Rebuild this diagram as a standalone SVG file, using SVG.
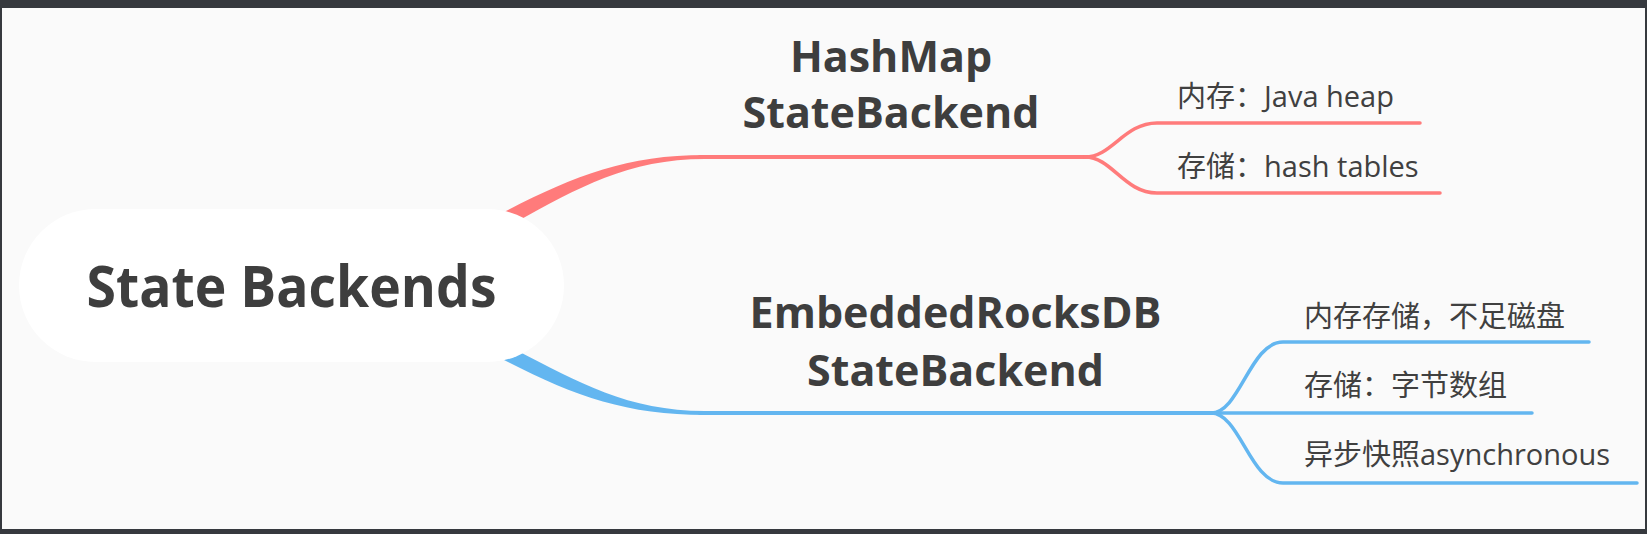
<svg xmlns="http://www.w3.org/2000/svg" width="1647" height="534" viewBox="0 0 1647 534">
  <style>
    .title { font-family: "Open Sans", "Noto Sans", "Liberation Sans", sans-serif; font-weight: 700; fill: #3e3e3e; text-anchor: middle; }
    .label { font-family: "Open Sans", "Noto Sans CJK SC", sans-serif; font-size: 29px; fill: #404040; }
    .red { stroke: #ff7b7b; fill: none; stroke-linecap: round; }
    .blue { stroke: #63b6f0; fill: none; stroke-linecap: round; }
  </style>
  <rect x="0" y="0" width="1647" height="534" fill="#36393e"/>
  <rect x="2" y="8" width="1643" height="521" fill="#fafafa"/>

  <g id="connectors">
    <!-- red main -->
    <path d="M504,212 C574,176 626,155 705,155 L705,159 C628,159 578,188 516,222 Z" fill="#ff7b7b"/>
    <path class="red" d="M700,157 H1087" stroke-width="4"/>
    <path class="red" d="M1085,157 C1112,157 1124,123 1157,123 H1420" stroke-width="3.5"/>
    <path class="red" d="M1085,157 C1112,157 1124,193 1157,193 H1440" stroke-width="3.5"/>
    <!-- blue main -->
    <path d="M504,360 C574,396 626,415 705,415 L705,411 C628,411 578,382 516,350 Z" fill="#63b6f0"/>
    <path class="blue" d="M700,413 H1213" stroke-width="4"/>
    <path class="blue" d="M1211,413 C1240,413 1250,342 1283,342 H1589" stroke-width="3.5"/>
    <path class="blue" d="M1211,413 H1532" stroke-width="3.5"/>
    <path class="blue" d="M1211,413 C1240,413 1250,483 1283,483 H1637" stroke-width="3.5"/>
  </g>

  <g id="root">
    <rect x="19" y="209" width="545" height="153" rx="76.5" ry="76.5" fill="#ffffff"/>
    <text class="title" x="291.5" y="307" font-size="57" textLength="410" lengthAdjust="spacingAndGlyphs">State Backends</text>
  </g>

  <g id="hashmap">
    <text class="title" x="891" y="72" font-size="43">HashMap</text>
    <text class="title" x="891" y="128" font-size="43">StateBackend</text>
  </g>
  <g id="hashmap-mem">
    <text class="label" x="1177" y="107">内存：Java heap</text>
  </g>
  <g id="hashmap-store">
    <text class="label" x="1177" y="177">存储：hash tables</text>
  </g>

  <g id="rocksdb">
    <text class="title" x="955.5" y="328" font-size="43">EmbeddedRocksDB</text>
    <text class="title" x="955.5" y="386" font-size="43">StateBackend</text>
  </g>
  <g id="rocksdb-mem">
    <text class="label" x="1304" y="327">内存存储，不足磁盘</text>
  </g>
  <g id="rocksdb-store">
    <text class="label" x="1304" y="396">存储：字节数组</text>
  </g>
  <g id="rocksdb-snap">
    <text class="label" x="1304" y="465">异步快照asynchronous</text>
  </g>
</svg>
